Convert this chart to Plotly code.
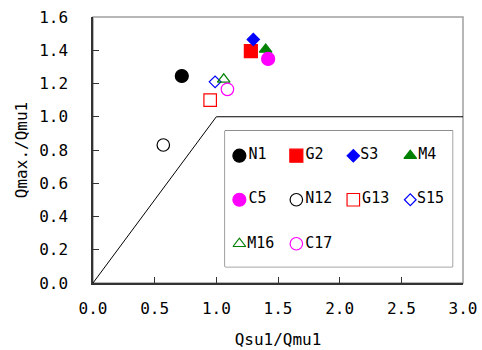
import plotly.graph_objects as go

# ---- data ----
names = ["N1", "G2", "S3", "M4", "C5", "N12", "G13", "S15", "M16", "C17"]
qsu_qmu = [0.72, 1.28, 1.30, 1.40, 1.42, 0.57, 0.95, 0.99, 1.06, 1.09]
qmax_qmu = [1.245, 1.395, 1.465, 1.405, 1.348, 0.83, 1.10, 1.21, 1.225, 1.165]
symbols = ["circle", "square", "diamond", "triangle-up", "circle",
           "circle-open", "square-open", "diamond-open", "triangle-up-open", "circle-open"]
colors = ["#000000", "#FF0000", "#0000FF", "#008000", "#FF00FF",
          "#000000", "#FF0000", "#0000FF", "#008000", "#FF00FF"]
sizes = [13, 13, 9.5, 11, 13, 12.5, 12.5, 9, 11, 12.5]

boundary_x = [0.0, 1.0, 3.0]
boundary_y = [0.0, 1.0, 1.0]

x_ticks = [0.0, 0.5, 1.0, 1.5, 2.0, 2.5, 3.0]
y_ticks = [0.0, 0.2, 0.4, 0.6, 0.8, 1.0, 1.2, 1.4, 1.6]

FONT = "DejaVu Sans Mono"
AX = "#333333"

fig = go.Figure()

# boundary line
fig.add_trace(go.Scatter(x=boundary_x, y=boundary_y, mode="lines",
                         line=dict(color="#000000", width=1), showlegend=False,
                         hoverinfo="skip"))

# data points
for n, xv, yv, s, c, sz in zip(names, qsu_qmu, qmax_qmu, symbols, colors, sizes):
    fig.add_trace(go.Scatter(x=[xv], y=[yv], mode="markers", name=n,
                             marker=dict(symbol=s, color=c, size=sz,
                                         line=dict(color=c, width=1.2)),
                             showlegend=False))

# legend drawn on an overlay axis (4 columns x 3 rows)
ncol = 4
col_x0, col_dx = 14.3, 57.0
row_y0, row_dy = 25.0, 44.0
for i, (n, s, c, sz) in enumerate(zip(names, symbols, colors, sizes)):
    r, k = divmod(i, ncol)
    fig.add_trace(go.Scatter(x=[col_x0 + col_dx * k], y=[row_y0 + row_dy * r],
                             mode="markers+text", text=[n], textposition="middle right",
                             textfont=dict(family=FONT, size=15, color="#000000"),
                             marker=dict(symbol=s, color=c, size=sz,
                                         line=dict(color=c, width=1.2)),
                             xaxis="x2", yaxis="y2", showlegend=False, hoverinfo="skip"))

fig.update_layout(
    width=482, height=350,
    margin=dict(l=93, r=19, t=17, b=67, autoexpand=False),
    paper_bgcolor="white", plot_bgcolor="white",
    font=dict(family=FONT, size=16, color="#000000"),
    xaxis=dict(range=[0, 3], tickvals=x_ticks, tickformat=".1f", automargin=False,
               ticks="inside", ticklen=6, tickcolor=AX, tickwidth=1,
               showline=True, linecolor=AX, linewidth=1.5, mirror=False,
               showgrid=False, zeroline=False, ticklabelstandoff=10,
               title=dict(text="Qsu1/Qmu1", font=dict(size=16), standoff=17)),
    yaxis=dict(range=[0, 1.6], tickvals=y_ticks, tickformat=".1f", automargin=False,
               ticks="inside", ticklen=6, tickcolor=AX, tickwidth=1,
               showline=True, linecolor=AX, linewidth=1.5, mirror=False,
               showgrid=False, zeroline=False, ticklabelstandoff=20,
               title=dict(text="Qmax./Qmu1", font=dict(size=16), standoff=8)),
    xaxis2=dict(domain=[0.357, 0.972], range=[0, 227.7], anchor="y2",
                visible=False, fixedrange=True),
    yaxis2=dict(domain=[0.061, 0.5726], range=[136, 0], anchor="x2",
                visible=False, fixedrange=True),
    shapes=[
        dict(type="rect", xref="paper", yref="paper", x0=0, x1=1, y0=0, y1=1,
             line=dict(color="#A0A0A0", width=1.5), layer="below"),
        dict(type="rect", xref="x2 domain", yref="y2 domain", x0=0, x1=1, y0=0, y1=1,
             line=dict(color="#333333", width=1), fillcolor="white", layer="below"),
    ],
)

fig.write_html("out.html")
